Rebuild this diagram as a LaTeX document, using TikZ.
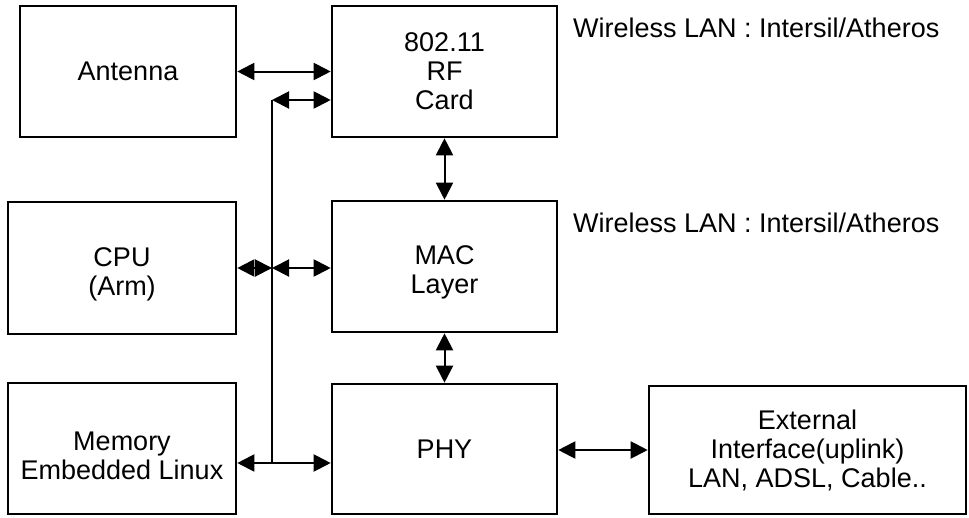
\documentclass[tikz,border=0pt]{standalone}
\usepackage{fontspec}
\setmainfont{Liberation Sans}
\usetikzlibrary{arrows.meta}
\tikzset{
  box/.style={draw, line width=2.6pt, rectangle, inner sep=0pt, align=center},
  bus/.style={line width=2pt},
  tip/.tip={Triangle[length=17pt,width=17pt]},
  bi/.style={line width=2pt, tip-tip},
  lbl/.style={anchor=west, inner sep=0pt}
}
\begin{document}
\begin{tikzpicture}[x=1pt,y=-1pt,font=\fontsize{27}{29}\selectfont]
\useasboundingbox (0,0) rectangle (969,517);
\node[box, minimum width=216pt, minimum height=131pt] (ant) at (128,71.5) {Antenna};
\node[box, minimum width=225pt, minimum height=131pt] (rf) at (444.5,71.5) {802.11\\RF\\Card};
\node[box, minimum width=228pt, minimum height=132pt,
  label={[align=center, yshift=-6pt]center:{CPU\\(Arm)}}] (cpu) at (122,268) {};
\node[box, minimum width=225pt, minimum height=131pt,
  label={[align=center, yshift=-6pt]center:{MAC\\Layer}}] (mac) at (444.5,266.5) {};
\node[box, minimum width=228pt, minimum height=131pt,
  label={[align=center, yshift=-7pt]center:{Memory\\Embedded Linux}}] (mem) at (122,448.5) {};
\node[box, minimum width=225pt, minimum height=130pt] (phy) at (444.5,449) {PHY};
\node[box, minimum width=317pt, minimum height=128pt] (ext) at (807.5,450) {External\\Interface(uplink)\\LAN, ADSL, Cable..};
\node[lbl] (wl1) at (573,28) {Wireless LAN : Intersil/Atheros};
\node[lbl] (wl2) at (573,223) {Wireless LAN : Intersil/Atheros};
\coordinate (bt) at (272,100);
\coordinate (bc) at (272,268);
\coordinate (bb) at (272,463);
\draw[bi] (ant.east) -- (rf.west);
\draw[bi] (bt) -- (bt -| rf.west);
\draw[bus] (bt) -- (bb);
\draw[bi] (cpu.east |- bc) -- (bc);
\draw[bi] (bc) -- (bc -| mac.west);
\draw[bi] (mem.east |- bb) -- (bb -| phy.west);
\draw[bi] (rf.south) -- (mac.north);
\draw[bi] (mac.south) -- (phy.north);
\draw[bi] (phy.east |- ext.west) -- (ext.west);
\end{tikzpicture}
\end{document}
